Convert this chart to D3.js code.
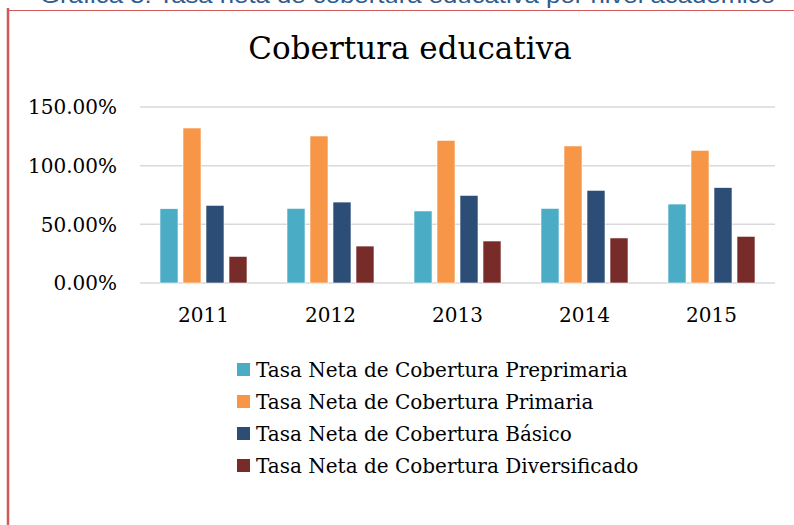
<!DOCTYPE html>
<html>
<head>
<meta charset="utf-8">
<script src="https://cdn.jsdelivr.net/npm/d3@7"></script>
<style>
  html, body { margin: 0; padding: 0; background: #fff; }
  svg { display: block; }
</style>
</head>
<body>
<svg id="chart" width="794" height="525"></svg>
<script>
const years = ["2011", "2012", "2013", "2014", "2015"];
const seriesNames = [
  "Tasa Neta de Cobertura Preprimaria",
  "Tasa Neta de Cobertura Primaria",
  "Tasa Neta de Cobertura Básico",
  "Tasa Neta de Cobertura Diversificado"
];
const preprimaria   = [63.3, 63.6, 61.4, 63.6, 67.3];
const primaria      = [132.1, 125.3, 121.6, 116.8, 113.1];
const basico        = [66.2, 69.0, 74.7, 79.0, 81.3];
const diversificado = [22.7, 31.5, 35.8, 38.4, 39.8];
const yTicks = [0, 50, 100, 150];
const colors = ["#4bacc6", "#f79646", "#2c4d75", "#772c2a"];
const headerText = "Gráfica 3. Tasa neta de cobertura educativa por nivel académico";
const chartTitle = "Cobertura educativa";

const seriesValues = [preprimaria, primaria, basico, diversificado];
const data = years.map((yr, i) => ({
  year: yr,
  values: seriesNames.map((s, j) => ({ key: s, idx: j, value: seriesValues[j][i] }))
}));

const svg = d3.select("#chart");
const serif = "'DejaVu Serif', serif";

// page header (cut off at top, as in the source page)
svg.append("text")
  .attr("x", 40).attr("y", 3)
  .attr("textLength", 735).attr("lengthAdjust", "spacingAndGlyphs")
  .attr("font-family", "'Liberation Sans', Arial, sans-serif")
  .attr("font-size", 22)
  .attr("fill", "#2f5b8f")
  .text(headerText);

// red frame
svg.append("line").attr("x1", 8).attr("x2", 794).attr("y1", 10.5).attr("y2", 10.5)
  .attr("stroke", "#d05a5a").attr("stroke-width", 1.2);
svg.append("line").attr("x1", 8).attr("x2", 8).attr("y1", 8).attr("y2", 525)
  .attr("stroke", "#d05a5a").attr("stroke-width", 2.5);

const plot = { left: 140, right: 775, top: 107, bottom: 283 };

const x0 = d3.scaleBand().domain(years).range([plot.left, plot.right]).padding(0);
const x1 = d3.scaleBand().domain(d3.range(seriesNames.length))
  .range([20, 107]).paddingInner(5 / 23).paddingOuter(0);
const y = d3.scaleLinear().domain([0, 150]).range([plot.bottom, plot.top]);

// gridlines
svg.append("g").selectAll("line").data(yTicks).join("line")
  .attr("x1", plot.left).attr("x2", plot.right)
  .attr("y1", d => y(d)).attr("y2", d => y(d))
  .attr("stroke", "#d9d9d9").attr("stroke-width", 1.5);

// y labels
svg.append("g").selectAll("text").data(yTicks).join("text")
  .attr("x", 117).attr("y", d => y(d)).attr("dy", "0.36em")
  .attr("text-anchor", "end")
  .attr("font-family", serif).attr("font-size", 20).attr("fill", "#000")
  .text(d => d3.format(".2f")(d) + "%");

// bars
svg.append("g").selectAll("g").data(data).join("g")
  .attr("transform", d => `translate(${x0(d.year)},0)`)
  .selectAll("rect").data(d => d.values).join("rect")
  .attr("x", d => x1(d.idx))
  .attr("width", x1.bandwidth())
  .attr("y", d => y(d.value))
  .attr("height", d => y(0) - y(d.value))
  .attr("fill", d => colors[d.idx])
  .attr("stroke", "#ffffff").attr("stroke-width", 0.6);

// x labels
svg.append("g").selectAll("text").data(years).join("text")
  .attr("x", d => x0(d) + x0.bandwidth() / 2).attr("y", 322)
  .attr("text-anchor", "middle")
  .attr("font-family", serif).attr("font-size", 20).attr("fill", "#000")
  .text(d => d);

// title
svg.append("text")
  .attr("x", 410).attr("y", 59)
  .attr("text-anchor", "middle")
  .attr("font-family", serif).attr("font-size", 31).attr("fill", "#000")
  .text(chartTitle);

// legend
const leg = svg.append("g").selectAll("g").data(seriesNames).join("g")
  .attr("transform", (d, i) => `translate(237,${377 + i * 32})`);
leg.append("rect").attr("x", 0).attr("y", -14).attr("width", 13).attr("height", 13)
  .attr("fill", (d, i) => colors[i]);
leg.append("text").attr("x", 19).attr("y", 0)
  .attr("font-family", serif).attr("font-size", 20).attr("fill", "#000")
  .text(d => d);
</script>
</body>
</html>
